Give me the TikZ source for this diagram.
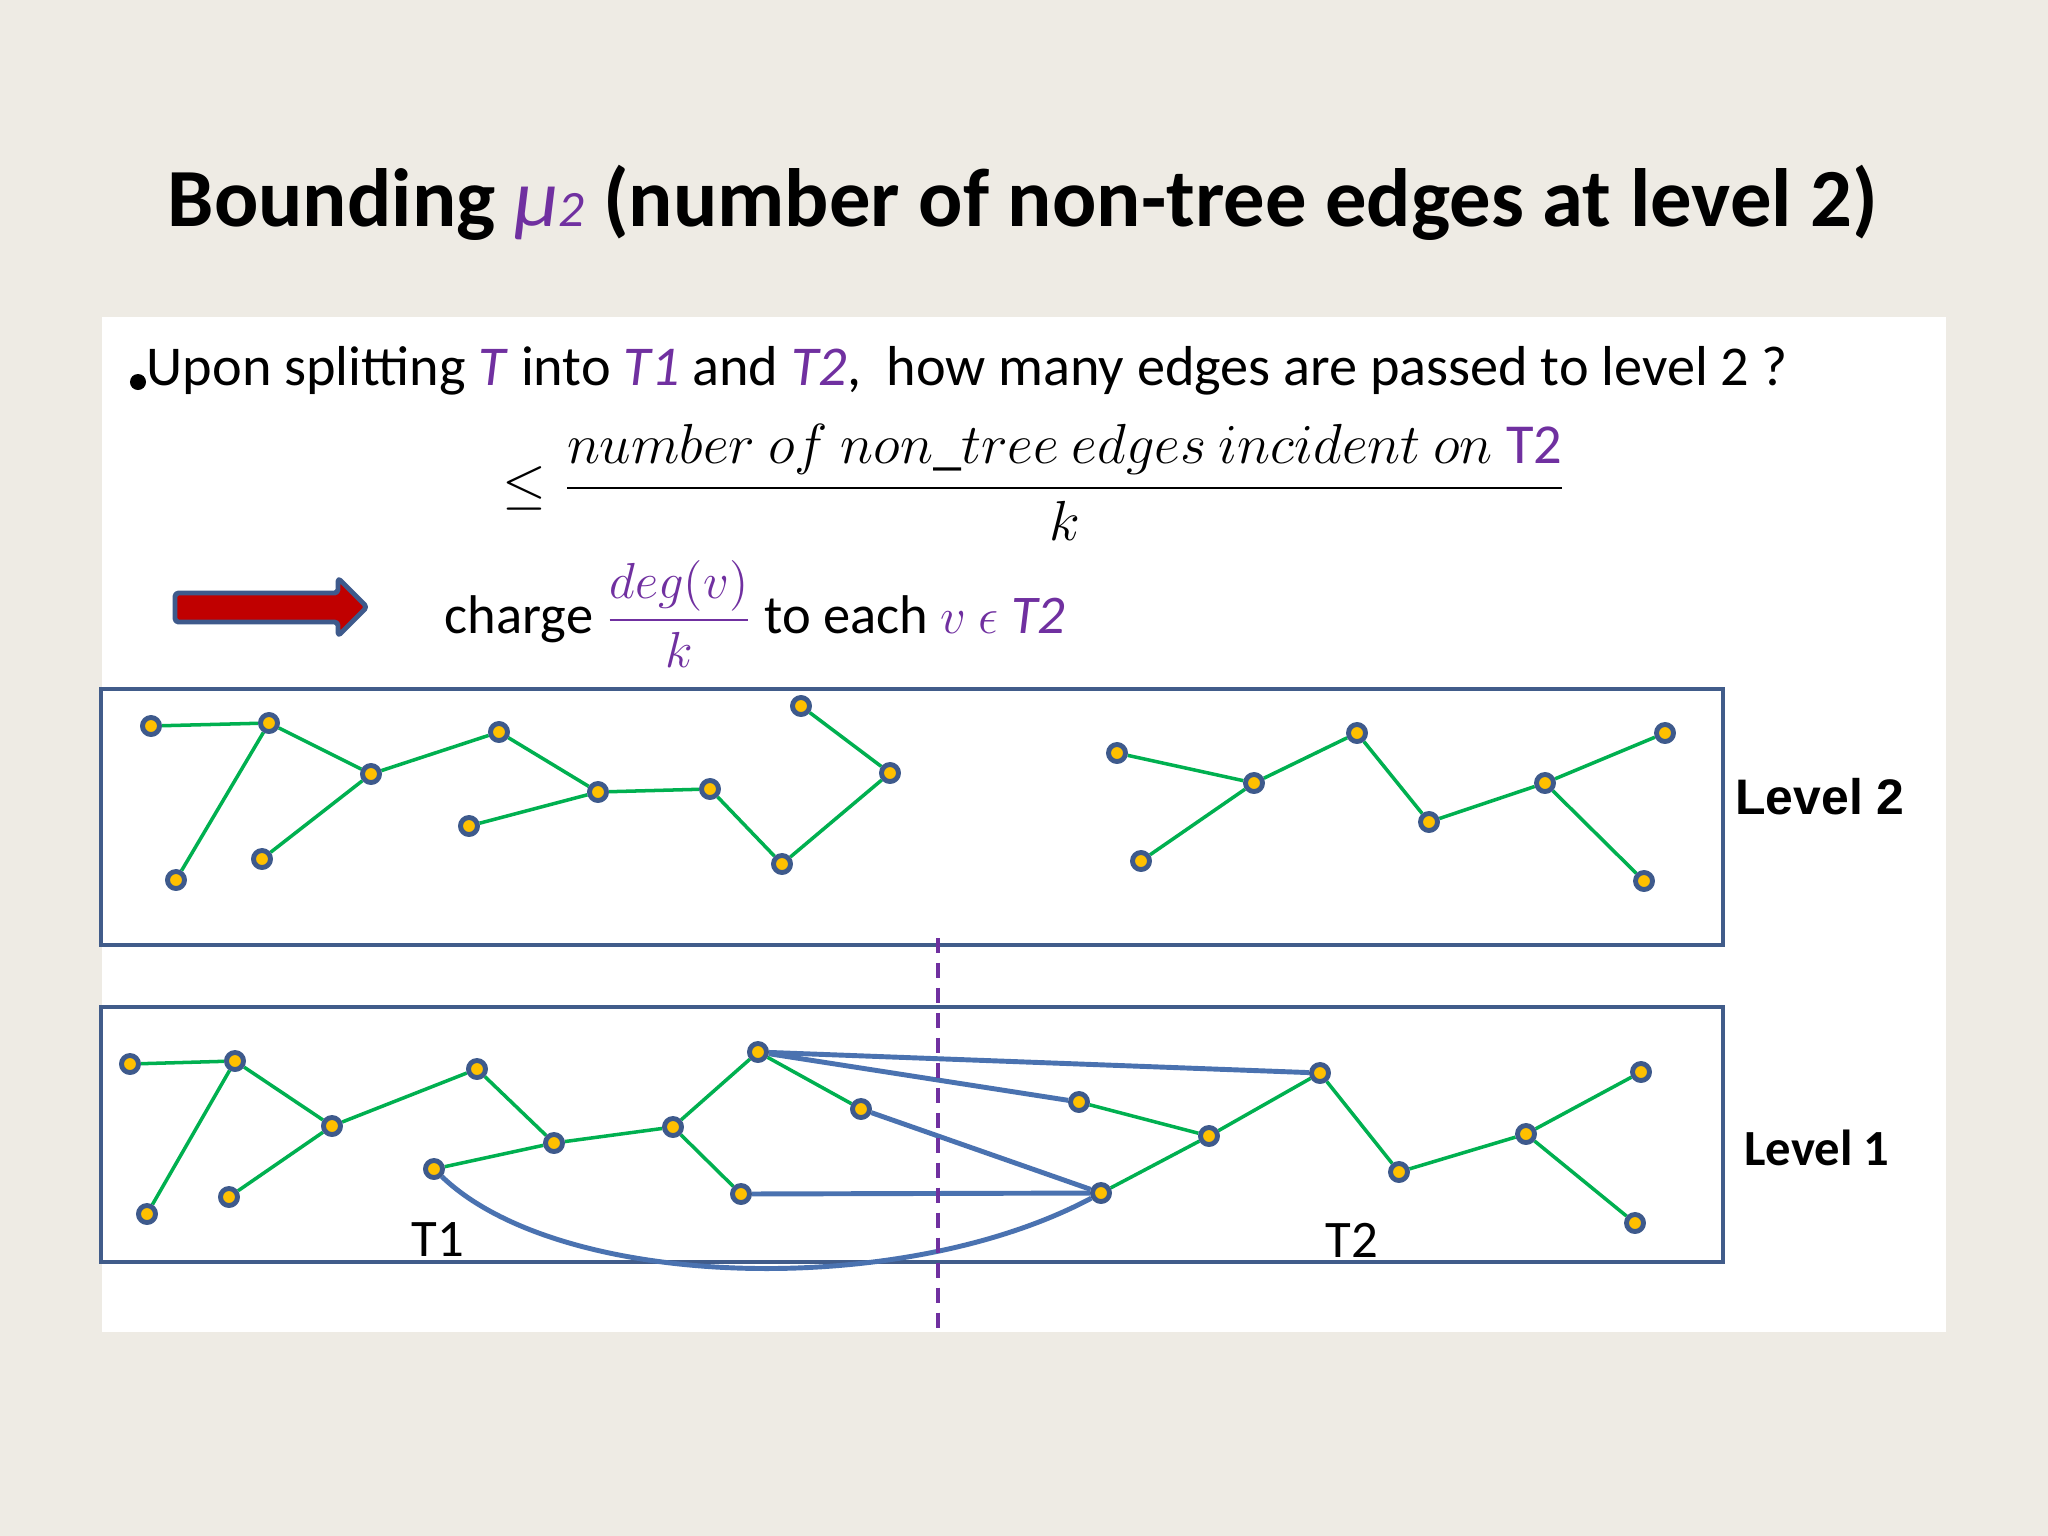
\documentclass[tikz,border=0pt]{standalone}
\usepackage{fontspec}
\usepackage{amsmath}
\usepackage{graphicx}
\setmainfont{Carlito}
\newfontfamily\arialfont{Liberation Sans}

\definecolor{slidebg}{RGB}{238,235,228}
\definecolor{purp}{RGB}{112,48,160}
\definecolor{treegreen}{RGB}{0,176,80}
\definecolor{edgeblue}{RGB}{74,114,176}
\definecolor{boxblue}{RGB}{65,92,138}
\definecolor{ringblue}{RGB}{62,90,140}
\definecolor{nodeyellow}{RGB}{255,192,0}
\definecolor{arrowred}{RGB}{192,0,0}

\pgfdeclarelayer{back}
\pgfdeclarelayer{edges}
\pgfsetlayers{back,edges,main}

\begin{document}
\begin{tikzpicture}[x=0.01cm, y=-0.01cm, line join=round,
    vtx/.style={circle, draw=ringblue, fill=nodeyellow, line width=1.4pt, minimum size=0.17cm, inner sep=0pt},
    tree/.style={draw=treegreen, line width=1pt},
    nontree/.style={draw=edgeblue, line width=1.4pt},
    lvlbox/.style={draw=boxblue, line width=1.3pt}]
    \useasboundingbox (0,0) rectangle (2048,1536);

    % slide background and boxes
    \begin{pgfonlayer}{back}
        \fill[slidebg] (0,0) rectangle (2048,1536);
        \fill[white] (102,317) rectangle (1946,1332);
        \draw[lvlbox] (101,689) rectangle (1723,945);
        \draw[lvlbox] (101,1007) rectangle (1723,1262);
    \end{pgfonlayer}

    % Title
    \node[anchor=base, inner sep=0, font=\fontsize{23.5}{28}\selectfont\bfseries] (title) at (1023,226)
        {Bounding \textcolor{purp}{\mdseries\itshape μ{\fontsize{14.5}{15}\selectfont 2}} (number of non-tree edges at level 2)};

    % Question and bound
    \fill (138,382) circle[radius=0.08cm];
    \node[anchor=base west, inner sep=0, font=\fontsize{16}{19}\selectfont] (question) at (146,385)
        {Upon splitting \textcolor{purp}{\textit{T}} into \textcolor{purp}{\textit{T1}} and \textcolor{purp}{\textit{T2}},\ \ how many edges are passed to level 2 ?};
    \node[anchor=base west, inner sep=0, font=\fontsize{14.4}{17}\selectfont] (bound) at (502,502)
        {\scalebox{1.115}{$\leq \dfrac{number\ of\ non\_tree\ edges\ incident\ on\ \textcolor{purp}{\text{T2}}}{k}$}};

    % Arrow and charge
    \draw[draw=ringblue, fill=arrowred, line width=1.4pt, rounded corners=1pt]
        (175,593) -- (338,593) -- (338,578) -- (367,607) -- (338,636) -- (338,622) -- (175,622) -- cycle;
    \node[anchor=base west, inner sep=0, font=\fontsize{15.5}{18}\selectfont] (charge) at (444,633)
        {charge \textcolor{purp}{$\dfrac{deg(v)}{k}$} to each \textcolor{purp}{$v$ $\epsilon$ \textit{T2}}};

    % Level 2: left tree
    \node[vtx] (a1) at (151,726) {};
    \node[vtx] (a2) at (269,723) {};
    \node[vtx] (a3) at (371,774) {};
    \node[vtx] (a4) at (176,880) {};
    \node[vtx] (a5) at (262,859) {};
    \node[vtx] (a6) at (499,732) {};
    \node[vtx] (a7) at (598,792) {};
    \node[vtx] (a8) at (469,826) {};
    \node[vtx] (a9) at (710,789) {};
    \node[vtx] (a10) at (782,864) {};
    \node[vtx] (a11) at (801,706) {};
    \node[vtx] (a12) at (890,773) {};

    % Level 2: right tree
    \node[vtx] (b1) at (1117,753) {};
    \node[vtx] (b2) at (1254,783) {};
    \node[vtx] (b3) at (1141,861) {};
    \node[vtx] (b4) at (1357,733) {};
    \node[vtx] (b5) at (1429,822) {};
    \node[vtx] (b6) at (1545,783) {};
    \node[vtx] (b7) at (1665,733) {};
    \node[vtx] (b8) at (1644,881) {};

    % Level 1: T1
    \node[vtx] (c1) at (130,1064) {};
    \node[vtx] (c2) at (235,1061) {};
    \node[vtx] (c3) at (147,1214) {};
    \node[vtx] (c4) at (229,1197) {};
    \node[vtx] (c5) at (332,1126) {};
    \node[vtx] (c6) at (477,1069) {};
    \node[vtx] (c7) at (554,1143) {};
    \node[vtx] (c8) at (434,1169) {};
    \node[vtx] (c9) at (673,1127) {};
    \node[vtx] (c10) at (758,1052) {};
    \node[vtx] (c11) at (861,1109) {};
    \node[vtx] (c12) at (741,1194) {};

    % Level 1: T2
    \node[vtx] (d1) at (1079,1102) {};
    \node[vtx] (d2) at (1209,1136) {};
    \node[vtx] (d3) at (1101,1193) {};
    \node[vtx] (d4) at (1320,1073) {};
    \node[vtx] (d5) at (1399,1172) {};
    \node[vtx] (d6) at (1526,1134) {};
    \node[vtx] (d7) at (1641,1072) {};
    \node[vtx] (d8) at (1635,1223) {};

    \begin{pgfonlayer}{edges}
        \draw[tree] (a1) -- (a2) -- (a4);
        \draw[tree] (a2) -- (a3) -- (a6) -- (a7) -- (a9) -- (a10) -- (a12) -- (a11);
        \draw[tree] (a5) -- (a3);
        \draw[tree] (a8) -- (a7);

        \draw[tree] (b1) -- (b2) -- (b4) -- (b5) -- (b6) -- (b7);
        \draw[tree] (b3) -- (b2);
        \draw[tree] (b6) -- (b8);

        \draw[tree] (c1) -- (c2) -- (c3);
        \draw[tree] (c2) -- (c5) -- (c6) -- (c7) -- (c9) -- (c10) -- (c11);
        \draw[tree] (c4) -- (c5);
        \draw[tree] (c8) -- (c7);
        \draw[tree] (c9) -- (c12);

        \draw[tree] (d1) -- (d2) -- (d4) -- (d5) -- (d6) -- (d7);
        \draw[tree] (d3) -- (d2);
        \draw[tree] (d6) -- (d8);

        % non-tree edges across the cut
        \draw[nontree] (c10) -- (d4);
        \draw[nontree] (c10) -- (d1);
        \draw[nontree] (c11) -- (d3);
        \draw[nontree] (c12) -- (d3);
        \draw[nontree] (c8) .. controls (560,1290) and (900,1300) .. (d3);
    \end{pgfonlayer}

    % the cut
    \coordinate (cuttop) at (938,938);
    \coordinate (cutbot) at (938,1332);
    \draw[purp, line width=1.2pt, dash pattern=on 4.3pt off 2.8pt] (cuttop) -- (cutbot);

    % labels
    \node[font=\fontsize{15}{18}\selectfont] (tone) at (438,1240) {T1};
    \node[font=\fontsize{15}{18}\selectfont] (ttwo) at (1352,1240) {T2};
    \node[font=\arialfont\fontsize{14.2}{17}\selectfont\bfseries] (lvltwo) at (1820,797) {Level 2};
    \node[font=\fontsize{14.4}{17}\selectfont\bfseries] (lvlone) at (1817,1148) {Level 1};
\end{tikzpicture}
\end{document}
